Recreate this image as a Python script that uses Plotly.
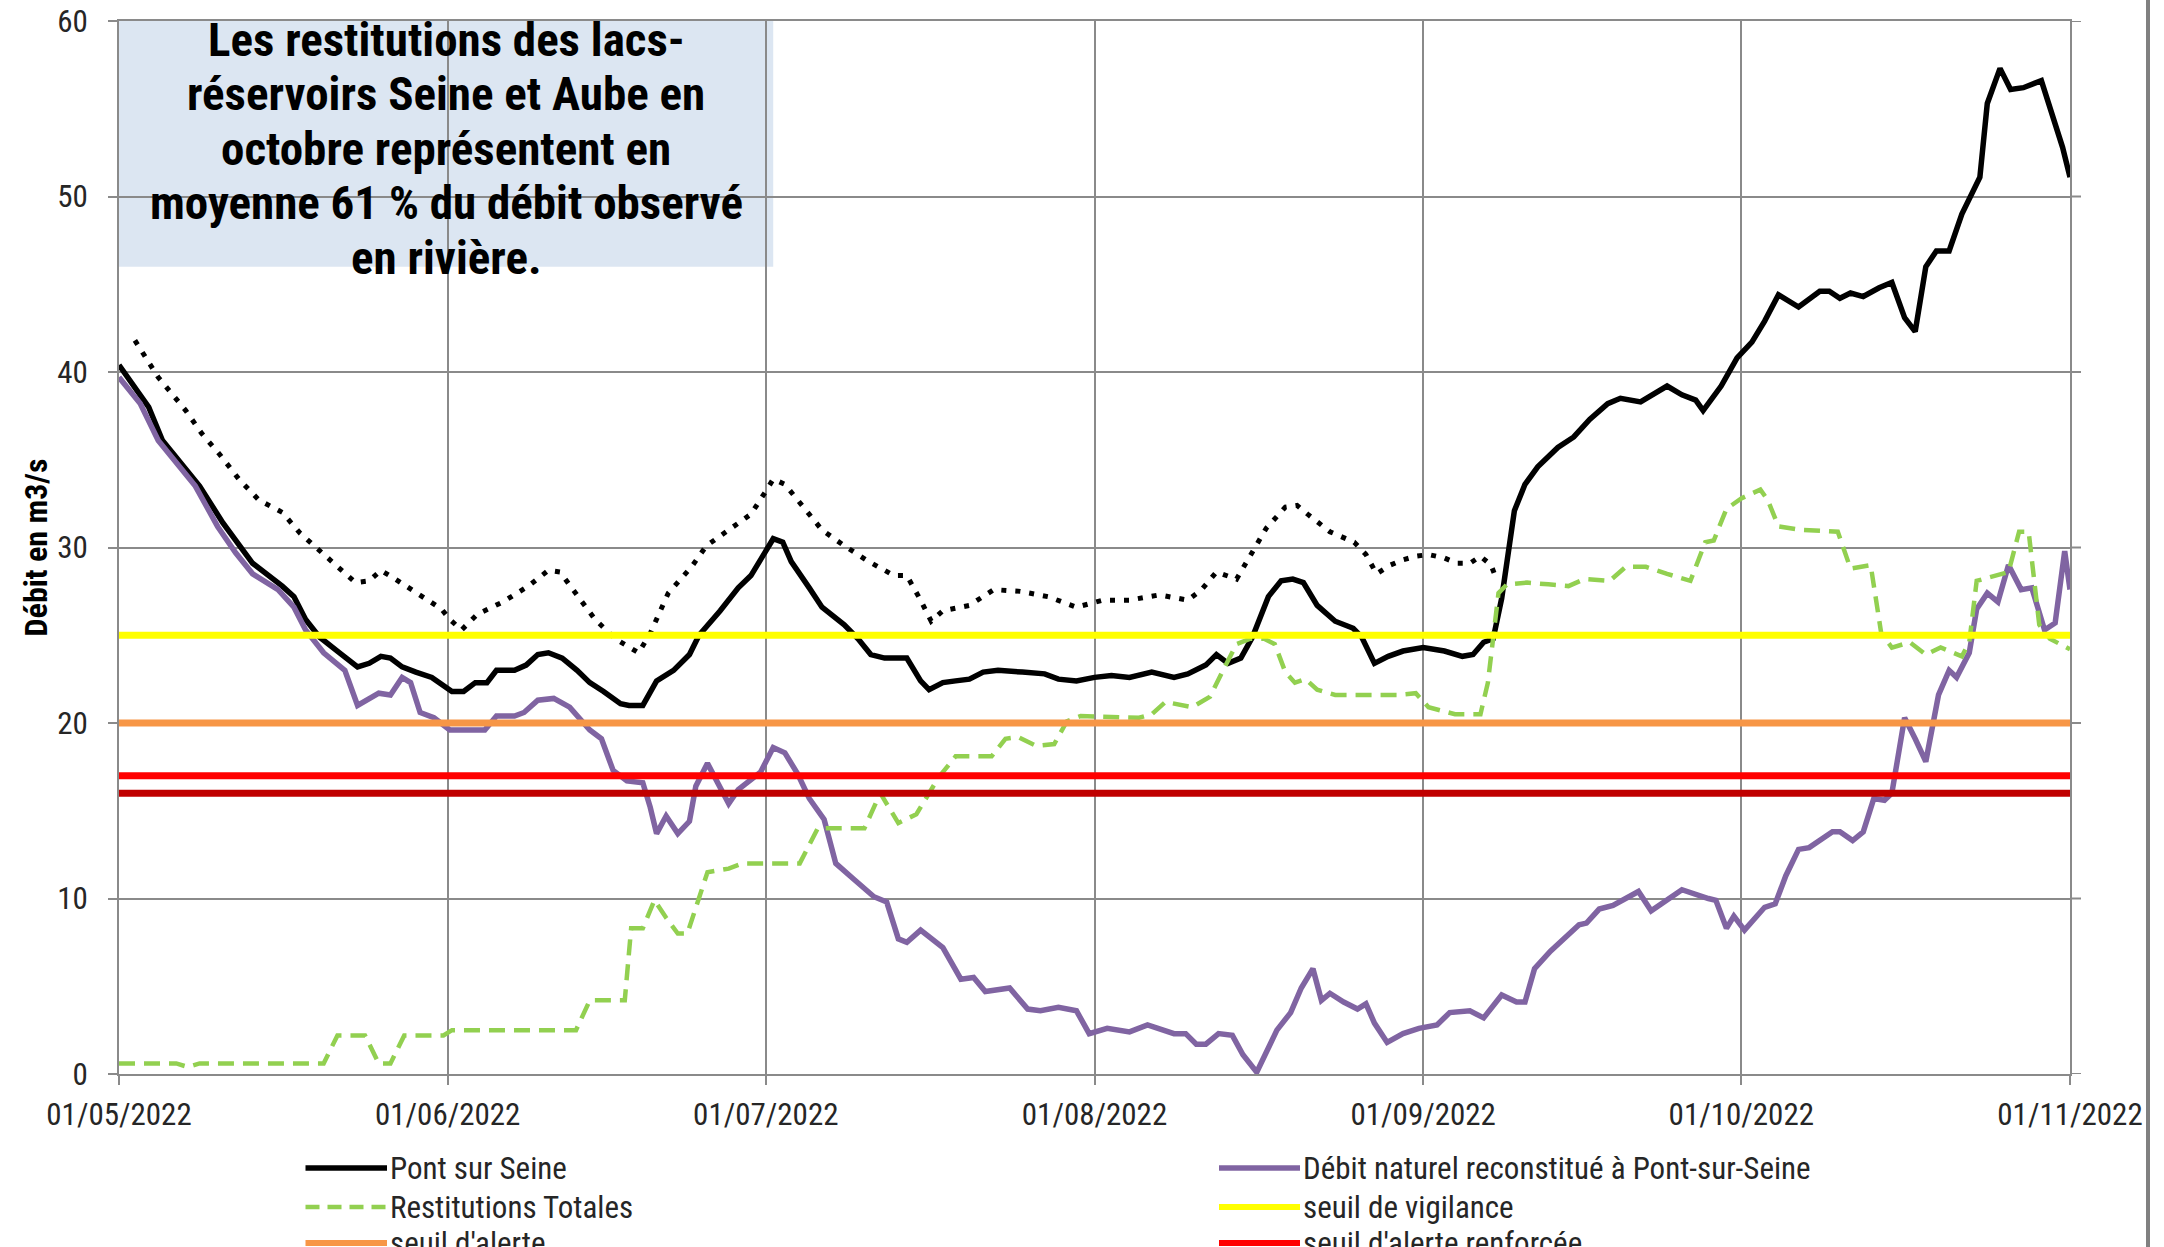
import pandas as pd
import plotly.graph_objects as go

START = pd.Timestamp("2022-05-01")
END = pd.Timestamp("2022-11-01")

# (day offset from 01/05/2022, débit m3/s)
pont_sur_seine = [
    (0, 40.4), (2.8, 38.0), (4.1, 36.1), (7.6, 33.5), (9.8, 31.4), (12.6, 29.1), (15.4, 27.8),
    (16.5, 27.2), (17.6, 25.9), (18.9, 24.9), (20.8, 24.0), (22.5, 23.2), (23.6, 23.4), (24.7, 23.8),
    (25.6, 23.7), (26.7, 23.2), (28.0, 22.9), (29.5, 22.6), (31.4, 21.8), (32.5, 21.8), (33.6, 22.3),
    (34.7, 22.3), (35.6, 23.0), (37.3, 23.0), (38.4, 23.3), (39.5, 23.9), (40.5, 24.0), (41.8, 23.7),
    (43.2, 23.0), (44.4, 22.3), (45.7, 21.8), (47.3, 21.1), (48.1, 21.0), (49.4, 21.0), (50.7, 22.4),
    (52.3, 23.0), (53.8, 23.9), (54.7, 25.0), (56.7, 26.4), (58.4, 27.7), (59.6, 28.4), (60.9, 29.7),
    (61.7, 30.5), (62.6, 30.3), (63.4, 29.2), (65.1, 27.7), (66.3, 26.6), (68.4, 25.6), (69.7, 24.8),
    (70.9, 23.9), (72.2, 23.7), (74.3, 23.7), (75.6, 22.4), (76.4, 21.9), (77.7, 22.3), (78.9, 22.4),
    (80.2, 22.5), (81.5, 22.9), (82.9, 23.0), (85.2, 22.9), (87.3, 22.8), (88.6, 22.5), (90.3, 22.4),
    (92.0, 22.6), (93.6, 22.7), (95.3, 22.6), (97.4, 22.9), (99.5, 22.6), (100.8, 22.8), (102.5, 23.3),
    (103.5, 23.9), (104.6, 23.4), (105.8, 23.7), (106.9, 24.9), (108.4, 27.2), (109.6, 28.1),
    (110.7, 28.2), (111.7, 28.0), (113.0, 26.7), (114.7, 25.8), (116.4, 25.4), (117.2, 24.9),
    (118.4, 23.4), (119.7, 23.8), (121.1, 24.1), (123.0, 24.3), (125.0, 24.1), (126.7, 23.8),
    (127.7, 23.9), (128.7, 24.6), (129.6, 24.8), (130.4, 27.1), (131.1, 29.9), (131.6, 32.1),
    (132.6, 33.6), (133.8, 34.6), (135.7, 35.7), (137.2, 36.3), (138.7, 37.3), (140.4, 38.2),
    (141.6, 38.5), (143.5, 38.3), (146.0, 39.2), (147.4, 38.7), (148.7, 38.4), (149.4, 37.8),
    (151.1, 39.2), (152.6, 40.8), (154.0, 41.7), (155.2, 42.9), (156.5, 44.4), (158.4, 43.7),
    (160.4, 44.6), (161.3, 44.6), (162.3, 44.2), (163.3, 44.5), (164.5, 44.3), (166.0, 44.8),
    (167.2, 45.1), (168.4, 43.1), (169.4, 42.3), (170.4, 46.0), (171.4, 46.9), (172.6, 46.9),
    (173.8, 49.0), (174.8, 50.3), (175.5, 51.1), (176.2, 55.3), (177.4, 57.3), (178.4, 56.1),
    (179.6, 56.2), (181.3, 56.6), (182.3, 54.7), (183.3, 52.8), (184.0, 51.1),
]

debit_naturel = [
    (0, 39.7), (2.0, 38.2), (3.7, 36.1), (4.6, 35.4), (7.2, 33.5), (9.3, 31.2), (11.0, 29.7),
    (12.6, 28.5), (15.0, 27.6), (16.5, 26.6), (17.6, 25.3), (19.3, 24.0), (21.3, 23.0), (22.5, 21.0),
    (24.5, 21.7), (25.6, 21.6), (26.7, 22.6), (27.5, 22.3), (28.4, 20.6), (29.7, 20.3), (31.2, 19.6),
    (34.5, 19.6), (35.6, 20.4), (37.3, 20.4), (38.2, 20.6), (39.5, 21.3), (41.0, 21.4), (42.5, 20.9),
    (43.5, 20.2), (44.4, 19.6), (45.5, 19.1), (46.6, 17.3), (47.9, 16.7), (49.4, 16.6), (50.1, 15.2),
    (50.7, 13.7), (51.6, 14.7), (52.7, 13.7), (53.8, 14.4), (54.4, 16.4), (55.5, 17.7), (56.7, 16.3),
    (57.5, 15.4), (58.4, 16.2), (60.5, 17.2), (61.7, 18.6), (62.8, 18.3), (64.0, 17.1), (65.1, 15.7),
    (66.5, 14.5), (67.6, 12.0), (69.3, 11.1), (71.2, 10.1), (72.4, 9.8), (73.5, 7.7), (74.3, 7.5),
    (75.6, 8.2), (77.7, 7.2), (79.4, 5.4), (80.6, 5.5), (81.7, 4.7), (84.0, 4.9), (85.7, 3.7),
    (86.9, 3.6), (88.6, 3.8), (90.3, 3.6), (91.5, 2.3), (93.2, 2.6), (95.3, 2.4), (97.0, 2.8),
    (99.5, 2.3), (100.6, 2.3), (101.6, 1.7), (102.5, 1.7), (103.7, 2.3), (105.0, 2.2), (106.0, 1.1),
    (107.3, 0.1), (109.2, 2.5), (110.5, 3.5), (111.5, 4.9), (112.6, 6.0), (113.4, 4.2), (114.2, 4.6),
    (115.5, 4.1), (116.8, 3.7), (117.6, 4.0), (118.4, 2.9), (119.6, 1.8), (121.1, 2.3), (122.6, 2.6),
    (124.3, 2.8), (125.5, 3.5), (127.4, 3.6), (128.7, 3.2), (130.4, 4.5), (131.8, 4.1), (132.6, 4.1),
    (133.5, 6.0), (135.0, 7.0), (136.2, 7.7), (137.7, 8.5), (138.4, 8.6), (139.6, 9.4), (140.9, 9.6),
    (142.6, 10.2), (143.3, 10.4), (144.5, 9.3), (146.0, 9.9), (147.4, 10.5), (149.9, 10.0),
    (150.6, 9.9), (151.6, 8.3), (152.3, 9.0), (153.3, 8.2), (155.2, 9.5), (156.2, 9.7), (157.2, 11.3),
    (158.4, 12.8), (159.4, 12.9), (161.6, 13.8), (162.3, 13.8), (163.5, 13.3), (164.5, 13.8),
    (165.5, 15.7), (166.5, 15.6), (167.2, 16.0), (168.4, 20.3), (169.4, 19.1), (170.4, 17.8),
    (171.6, 21.6), (172.6, 23.0), (173.3, 22.6), (174.5, 24.0), (175.2, 26.5), (176.2, 27.4),
    (177.2, 26.9), (178.2, 29.0), (179.4, 27.6), (180.4, 27.7), (181.6, 25.3), (182.6, 25.7),
    (183.5, 29.8), (184.0, 27.6),
]

restitutions_totales = [
    (0, 0.6), (5.4, 0.6), (6.5, 0.4), (7.6, 0.6), (19.3, 0.6), (20.6, 2.2), (23.2, 2.2), (24.5, 0.6),
    (25.6, 0.6), (26.9, 2.2), (30.6, 2.2), (31.4, 2.5), (43.1, 2.5), (44.4, 4.2), (47.7, 4.2),
    (48.3, 8.3), (49.4, 8.3), (50.5, 9.9), (51.6, 8.9), (52.7, 8.0), (53.6, 8.0), (54.4, 9.5),
    (55.5, 11.5), (57.5, 11.7), (58.8, 12.0), (64.2, 12.0), (65.9, 14.0), (70.3, 14.0), (71.8, 16.0),
    (73.5, 14.3), (75.2, 14.8), (77.3, 16.9), (78.9, 18.1), (82.3, 18.1), (83.6, 19.1), (84.8, 19.2),
    (86.5, 18.7), (88.2, 18.8), (89.4, 20.1), (90.7, 20.4), (96.2, 20.3), (97.4, 20.5), (98.7, 21.2),
    (101.2, 20.9), (102.9, 21.5), (104.2, 23.1), (105.4, 24.5), (106.7, 24.8), (108.0, 24.8),
    (109.0, 24.5), (110.0, 22.9), (110.9, 22.3), (111.9, 22.5), (113.0, 21.9), (114.7, 21.6),
    (117.2, 21.6), (119.3, 21.6), (120.6, 21.6), (122.3, 21.7), (123.5, 20.9), (126.0, 20.5),
    (128.4, 20.5), (129.1, 22.3), (130.1, 27.4), (130.9, 27.9), (132.8, 28.0), (134.8, 27.9),
    (136.7, 27.8), (138.2, 28.2), (140.6, 28.1), (142.1, 28.9), (144.0, 28.9), (146.0, 28.5),
    (148.2, 28.1), (149.6, 30.3), (150.4, 30.4), (151.6, 32.2), (153.0, 32.8), (154.8, 33.3),
    (155.5, 32.7), (156.5, 31.2), (158.7, 31.0), (162.1, 30.9), (163.3, 28.8), (165.2, 29.0),
    (166.2, 25.1), (167.2, 24.3), (168.9, 24.6), (170.4, 23.9), (171.8, 24.3), (173.8, 23.8),
    (174.5, 24.6), (175.2, 28.1), (177.2, 28.4), (178.2, 28.6), (179.2, 30.9), (180.1, 30.9),
    (181.1, 25.6), (182.1, 24.8), (184.0, 24.2),
]

# dotted black series (its legend entry is below the visible part of the reference)
serie_pointillee = [
    (1.5, 41.8), (3.7, 39.7), (6.3, 37.8), (7.8, 36.5), (9.5, 35.3), (11.3, 33.9), (13.2, 32.7),
    (15.4, 32.0), (17.1, 30.8), (19.1, 29.7), (21.2, 28.6), (22.3, 28.0), (23.6, 28.1), (24.7, 28.7),
    (25.8, 28.3), (28.0, 27.4), (30.4, 26.5), (31.2, 25.9), (32.3, 25.3), (33.8, 26.2), (36.2, 26.9),
    (38.6, 27.8), (40.5, 28.7), (41.6, 28.6), (43.1, 27.4), (44.9, 25.9), (46.8, 24.8), (49.0, 24.0),
    (50.1, 25.1), (51.8, 27.4), (54.0, 28.9), (55.4, 30.1), (57.5, 31.0), (59.6, 31.9), (61.1, 33.3),
    (61.7, 33.9), (62.8, 33.6), (64.7, 32.2), (66.3, 31.0), (68.4, 30.1), (70.7, 29.2), (73.1, 28.4),
    (74.3, 28.4), (75.6, 27.0), (76.6, 25.8), (77.7, 26.4), (80.2, 26.7), (82.5, 27.6), (85.0, 27.5),
    (87.6, 27.2), (90.3, 26.6), (92.8, 27.0), (95.3, 27.0), (98.1, 27.3), (100.8, 27.0),
    (102.1, 27.6), (103.5, 28.6), (105.4, 28.2), (106.7, 29.6), (108.2, 31.1), (110.0, 32.3),
    (111.1, 32.4), (112.1, 31.9), (114.2, 30.9), (116.5, 30.3), (117.6, 29.6), (118.6, 28.5),
    (119.9, 29.0), (121.1, 29.3), (122.3, 29.5), (123.5, 29.6), (125.0, 29.4), (126.2, 29.1),
    (127.4, 29.1), (128.4, 29.5), (129.4, 29.0), (129.9, 28.2),
]

seuil_vigilance = 25
seuil_alerte = 20
seuil_alerte_renforcee = 17
seuil_crise = 16

month_ticks = ["2022-05-01", "2022-06-01", "2022-07-01", "2022-08-01",
               "2022-09-01", "2022-10-01", "2022-11-01"]
y_ticks = [0, 10, 20, 30, 40, 50, 60]

note_lines = [
    "Les restitutions des lacs-",
    "réservoirs Seine et Aube en",
    "octobre représentent en",
    "moyenne 61 % du débit observé",
    "en rivière.",
]

FONT = "Liberation Sans Narrow, Arial Narrow, Roboto Condensed, Liberation Sans, sans-serif"
GRID = "#8a8a8a"
TXT = "#262626"

# plot area geometry in page pixels (page body margin is set to 0 below)
M_L, M_R, M_T, M_B = 119, 94, 21, 173
FIG_W, FIG_H = 2164, 1247
PLOT_W = FIG_W - M_L - M_R
PLOT_H = FIG_H - M_T - M_B


def px_x(page_x):
    return (page_x - M_L) / PLOT_W


def px_y(page_y):
    return (M_T + PLOT_H - page_y) / PLOT_H


def xy(pairs):
    xs = [START + pd.Timedelta(days=d) for d, _ in pairs]
    ys = [v for _, v in pairs]
    return xs, ys


fig = go.Figure()

x, y = xy(serie_pointillee)
fig.add_trace(go.Scatter(x=x, y=y, mode="lines", name="série pointillée",
                         line=dict(color="black", width=5, dash="5px,9px")))

x, y = xy(pont_sur_seine)
fig.add_trace(go.Scatter(x=x, y=y, mode="lines", name="Pont sur Seine",
                         line=dict(color="black", width=5.5)))

x, y = xy(debit_naturel)
fig.add_trace(go.Scatter(x=x, y=y, mode="lines", name="Débit naturel reconstitué à Pont-sur-Seine",
                         line=dict(color="#8064A2", width=5.5)))

x, y = xy(restitutions_totales)
fig.add_trace(go.Scatter(x=x, y=y, mode="lines", name="Restitutions Totales",
                         line=dict(color="#92D050", width=4.5, dash="16px,9px")))

thr_x = [START, END]
fig.add_trace(go.Scatter(x=thr_x, y=[seuil_vigilance] * 2, mode="lines", name="seuil de vigilance",
                         line=dict(color="#FFFF00", width=7)))
fig.add_trace(go.Scatter(x=thr_x, y=[seuil_alerte] * 2, mode="lines", name="seuil d'alerte",
                         line=dict(color="#F79646", width=7)))
fig.add_trace(go.Scatter(x=thr_x, y=[seuil_alerte_renforcee] * 2, mode="lines",
                         name="seuil d'alerte renforcée", line=dict(color="#FF0000", width=7)))
fig.add_trace(go.Scatter(x=thr_x, y=[seuil_crise] * 2, mode="lines", name="seuil de crise",
                         line=dict(color="#C00000", width=7)))

# note box
fig.add_shape(type="rect", xref="x", yref="y", x0=START, x1=START + pd.Timedelta(days=61.7),
              y0=46.0, y1=60, fillcolor="#DCE6F2", line=dict(width=0), layer="below")
note_y = [58.95, 55.85, 52.75, 49.65, 46.55]
for txt, yy in zip(note_lines, note_y):
    fig.add_annotation(x=START + pd.Timedelta(days=30.85), y=yy, xref="x", yref="y", text=txt,
                       showarrow=False, xanchor="center", yanchor="middle",
                       font=dict(family=FONT, size=47, color="black", weight="bold"))

# y-axis title
fig.add_annotation(x=px_x(35), y=0.5, xref="paper", yref="paper", text="Débit en m3/s",
                   textangle=-90, showarrow=False, xanchor="center", yanchor="middle",
                   font=dict(family=FONT, size=32, color="black", weight="bold"))

# horizontal gridlines run slightly past the last date, as in the reference
for v in y_ticks:
    fig.add_shape(type="line", xref="paper", yref="y", x0=1, x1=px_x(2081), y0=v, y1=v,
                  line=dict(color=GRID, width=2))

# outer chart-area border on the right
fig.add_shape(type="rect", xref="paper", yref="paper", x0=px_x(2146), x1=px_x(2150),
              y0=px_y(1250), y1=px_y(-3), fillcolor="#808080", line=dict(width=0))

# legend (two columns, laid out as in the reference; third row runs off the bottom edge)
legend_entries = [  # (trace index, column, row)
    (1, 0, 0), (2, 1, 0), (3, 0, 1), (4, 1, 1), (5, 0, 2), (6, 1, 2),
]
col_line_x = [(305.5, 387), (1219, 1300)]
col_text_x = [388, 1301]
row_y = [1168, 1207, 1243]
for idx, col, row in legend_entries:
    tr = fig.data[idx]
    lw = min(tr.line.width, 6)
    dash = "14px,8px" if tr.line.dash else None
    fig.add_shape(type="line", xref="paper", yref="paper",
                  x0=px_x(col_line_x[col][0]), x1=px_x(col_line_x[col][1]),
                  y0=px_y(row_y[row]), y1=px_y(row_y[row]),
                  line=dict(color=tr.line.color, width=lw, dash=dash))
    fig.add_annotation(x=px_x(col_text_x[col]), y=px_y(row_y[row]), xref="paper", yref="paper",
                       text=tr.name, showarrow=False, xanchor="left", yanchor="middle",
                       font=dict(family=FONT, size=31, color=TXT))

fig.update_layout(
    width=FIG_W, height=FIG_H,
    margin=dict(l=M_L, r=M_R, t=M_T, b=M_B, autoexpand=False),
    paper_bgcolor="white", plot_bgcolor="white",
    font=dict(family=FONT, color=TXT),
    showlegend=False,
    xaxis=dict(type="date", range=[START, END], tickvals=month_ticks, tickformat="%d/%m/%Y",
               showgrid=True, gridcolor=GRID, gridwidth=2, showline=True, linecolor=GRID,
               linewidth=2, mirror=True, ticks="outside", ticklen=9, tickwidth=2, tickcolor=GRID,
               tickfont=dict(family=FONT, size=31, color=TXT), ticklabelstandoff=3,
               ticklabeloverflow="allow", zeroline=False),
    yaxis=dict(range=[0, 60], tickvals=y_ticks, showgrid=True, gridcolor=GRID, gridwidth=2,
               showline=True, linecolor=GRID, linewidth=2, mirror=True, ticks="outside",
               ticklen=9, tickwidth=2, tickcolor=GRID, zeroline=False,
               tickfont=dict(family=FONT, size=31, color=TXT), ticklabelstandoff=14,
               ticklabeloverflow="allow"),
)

fig.write_html("out.html", config={"displayModeBar": False},
               post_script="document.body.style.margin='0px';")
